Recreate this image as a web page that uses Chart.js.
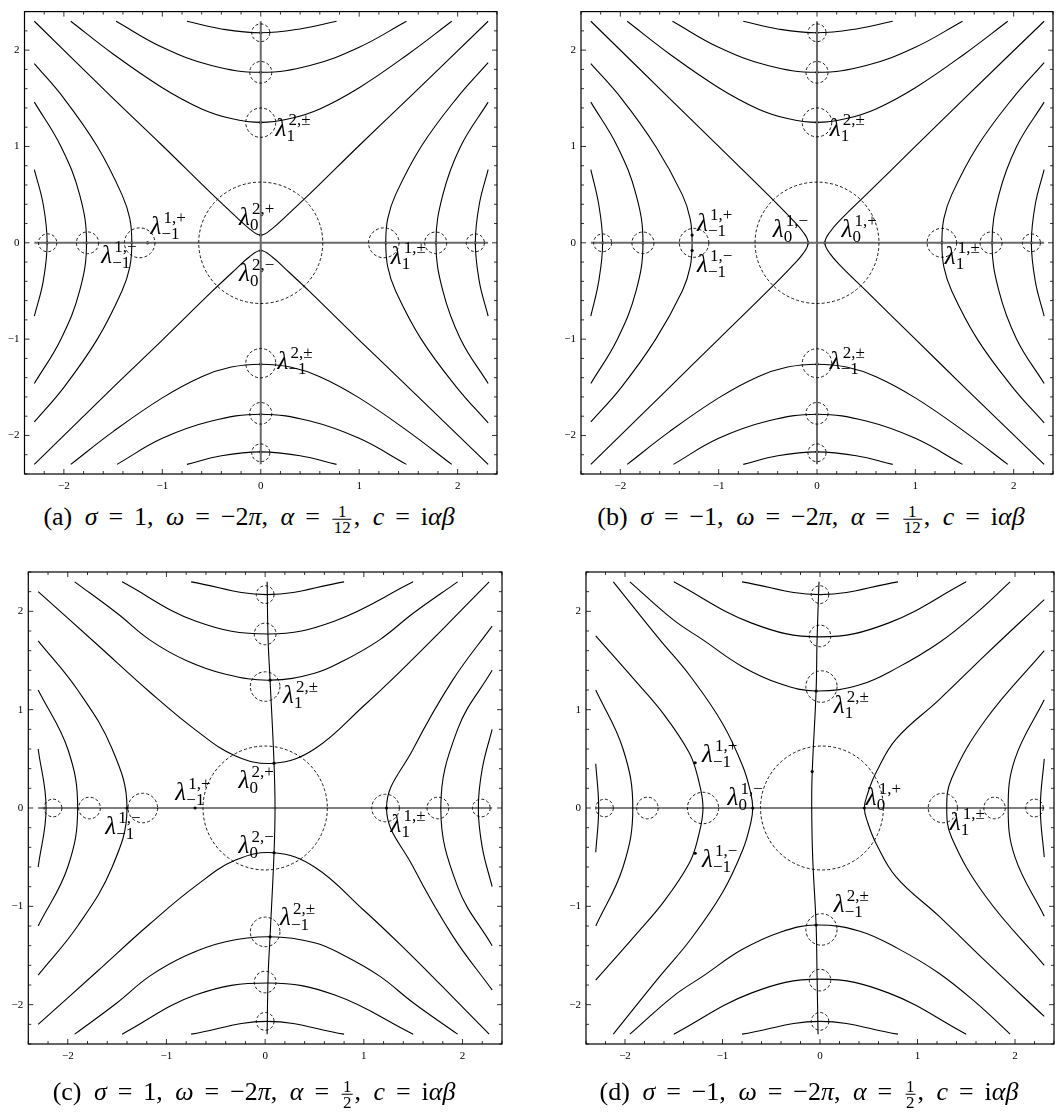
<!DOCTYPE html>
<html><head><meta charset="utf-8">
<script src="https://cdn.jsdelivr.net/npm/chart.js@4.4.1/dist/chart.umd.min.js"></script>
<style>
body{margin:0;background:#fff;width:1058px;height:1118px;position:relative;overflow:hidden;font-family:"Liberation Serif","DejaVu Serif",serif;color:#000}
canvas{position:absolute}
.cap{position:absolute;font-size:26px;white-space:nowrap;transform:translate(-50%,-50%);word-spacing:6px}
.cap i{font-style:italic}
.eq{margin:0 0.42em}
.fr{display:inline-block;vertical-align:middle;text-align:center;font-size:17px;line-height:15px;margin:0 2px;color:#000;word-spacing:0}
.fr span{display:block;padding:0 1px}
.fr span+span{border-top:1px solid #000}
</style></head><body>
<canvas id="ca" width="529" height="500" style="left:0;top:0;width:529px;height:500px"></canvas>
<canvas id="cb" width="529" height="500" style="left:529px;top:0;width:529px;height:500px"></canvas>
<canvas id="cc" width="529" height="540" style="left:0;top:540px;width:529px;height:540px"></canvas>
<canvas id="cd" width="529" height="540" style="left:529px;top:540px;width:529px;height:540px"></canvas>
<div class="cap" style="left:249px;top:518px">(a) <i>σ</i><span class="eq">=</span>1, <i>ω</i><span class="eq">=</span>−2<i>π</i>, <i>α</i><span class="eq">=</span><span class="fr"><span>1</span><span>12</span></span>, <i>c</i><span class="eq">=</span>i<i>αβ</i></div>
<div class="cap" style="left:811px;top:518px">(b) <i>σ</i><span class="eq">=</span>−1, <i>ω</i><span class="eq">=</span>−2<i>π</i>, <i>α</i><span class="eq">=</span><span class="fr"><span>1</span><span>12</span></span>, <i>c</i><span class="eq">=</span>i<i>αβ</i></div>
<div class="cap" style="left:254px;top:1093px">(c) <i>σ</i><span class="eq">=</span>1, <i>ω</i><span class="eq">=</span>−2<i>π</i>, <i>α</i><span class="eq">=</span><span class="fr"><span>1</span><span>2</span></span>, <i>c</i><span class="eq">=</span>i<i>αβ</i></div>
<div class="cap" style="left:809px;top:1093px">(d) <i>σ</i><span class="eq">=</span>−1, <i>ω</i><span class="eq">=</span>−2<i>π</i>, <i>α</i><span class="eq">=</span><span class="fr"><span>1</span><span>2</span></span>, <i>c</i><span class="eq">=</span>i<i>αβ</i></div>
<script>
// ---------- tick labels ----------
const tickValues = [-2, -1, 0, 1, 2];
const axisRange = [-2.4, 2.4];

// ---------- panel (a) ----------
const curvesA = [
  [[-1.93,2.30],[-1.5,1.96],[-1.0,1.61],[-0.6,1.39],[-0.3,1.29],[0,1.25],[0.3,1.29],[0.6,1.39],[1.0,1.61],[1.5,1.96],[1.94,2.30]],
  [[-1.47,2.30],[-1.0,2.03],[-0.5,1.84],[0,1.77],[0.5,1.84],[1.0,2.03],[1.48,2.30]],
  [[-0.75,2.30],[-0.4,2.22],[0,2.18],[0.4,2.22],[0.77,2.30]],
  [[-1.93,-2.30],[-1.5,-1.96],[-1.0,-1.61],[-0.6,-1.39],[-0.3,-1.29],[0,-1.26],[0.3,-1.29],[0.6,-1.39],[1.0,-1.61],[1.5,-1.96],[1.94,-2.30]],
  [[-1.46,-2.30],[-1.0,-2.03],[-0.5,-1.85],[0,-1.78],[0.5,-1.85],[1.0,-2.03],[1.48,-2.30]],
  [[-0.75,-2.30],[-0.4,-2.21],[0,-2.17],[0.4,-2.21],[0.77,-2.30]],
  [[-2.30,2.30],[-1.5,1.50],[-1.0,1.01],[-0.5,0.51],[-0.25,0.27],[-0.12,0.15],[0,0.08],[0.12,0.15],[0.25,0.27],[0.5,0.51],[1.0,1.01],[1.5,1.50],[2.31,2.30]],
  [[-2.30,-2.30],[-1.5,-1.50],[-1.0,-1.01],[-0.5,-0.51],[-0.25,-0.27],[-0.12,-0.15],[0,-0.08],[0.12,-0.15],[0.25,-0.27],[0.5,-0.51],[1.0,-1.01],[1.5,-1.50],[2.31,-2.30]],
  [[-2.30,1.86],[-2.0,1.5],[-1.66,1.0],[-1.41,0.5],[-1.33,0.25],[-1.31,0],[-1.33,-0.25],[-1.41,-0.5],[-1.66,-1.0],[-2.0,-1.5],[-2.30,-1.86]],
  [[-2.30,1.46],[-2.03,1.0],[-1.84,0.5],[-1.77,0],[-1.84,-0.5],[-2.03,-1.0],[-2.30,-1.46]],
  [[-2.30,0.76],[-2.21,0.4],[-2.17,0],[-2.21,-0.4],[-2.30,-0.76]],
  [[2.31,1.87],[1.99,1.5],[1.63,1.0],[1.37,0.5],[1.29,0.25],[1.27,0],[1.29,-0.25],[1.37,-0.5],[1.63,-1.0],[1.99,-1.5],[2.31,-1.87]],
  [[2.31,1.46],[2.03,1.0],[1.85,0.5],[1.78,0],[1.85,-0.5],[2.03,-1.0],[2.31,-1.46]],
  [[2.31,0.76],[2.22,0.4],[2.18,0],[2.22,-0.4],[2.31,-0.76]]
];
const axesA = [[[-2.3,0],[2.31,0]], [[0,-2.3],[0,2.3]]];
const dotsA = [[0,0.08],[0,-0.08],[-1.31,0],[-1.15,0],[1.27,0],[-1.77,0],[1.78,0],[-2.17,0],[2.18,0],[0,1.25],[0,1.77],[0,2.18],[0,-1.26],[0,-1.78],[0,-2.17]];
const circlesA = [[0,0,0.63],[-1.23,0,0.155],[-1.76,0,0.113],[-2.165,0,0.093],[1.25,0,0.155],[1.777,0,0.112],[2.18,0,0.092],[0,1.247,0.152],[0,1.77,0.112],[0,2.18,0.092],[0,-1.25,0.152],[0,-1.77,0.112],[0,-2.18,0.092]];
const labelsA = [[-1.12,0.09,'1,+','−1'],[-1.62,-0.21,'1,−','−1'],[-0.22,0.18,'2,+','0'],[-0.22,-0.40,'2,−','0'],[0.15,1.11,'2,±','1'],[0.17,-1.31,'2,±','−1'],[1.32,-0.22,'1,±','1']];

// ---------- panel (b) ----------
const curvesB = [
  [[-1.93,2.30],[-1.5,1.96],[-1.0,1.61],[-0.6,1.39],[-0.3,1.29],[0,1.25],[0.3,1.29],[0.6,1.39],[1.0,1.61],[1.5,1.96],[1.94,2.30]],
  [[-1.47,2.30],[-1.0,2.03],[-0.5,1.84],[0,1.77],[0.5,1.84],[1.0,2.03],[1.48,2.30]],
  [[-0.75,2.30],[-0.4,2.22],[0,2.18],[0.4,2.22],[0.77,2.30]],
  [[-1.93,-2.30],[-1.5,-1.96],[-1.0,-1.61],[-0.6,-1.39],[-0.3,-1.29],[0,-1.26],[0.3,-1.29],[0.6,-1.39],[1.0,-1.61],[1.5,-1.96],[1.94,-2.30]],
  [[-1.46,-2.30],[-1.0,-2.03],[-0.5,-1.85],[0,-1.78],[0.5,-1.85],[1.0,-2.03],[1.48,-2.30]],
  [[-0.75,-2.30],[-0.4,-2.21],[0,-2.17],[0.4,-2.21],[0.77,-2.30]],
  [[-2.30,2.30],[-1.5,1.50],[-1.0,1.00],[-0.5,0.50],[-0.26,0.25],[-0.14,0.11],[-0.09,0],[-0.14,-0.11],[-0.26,-0.25],[-0.5,-0.50],[-1.0,-1.00],[-1.5,-1.50],[-2.30,-2.30]],
  [[2.31,2.30],[1.5,1.50],[1.0,1.00],[0.5,0.50],[0.25,0.25],[0.13,0.11],[0.08,0],[0.13,-0.11],[0.25,-0.25],[0.5,-0.50],[1.0,-1.00],[1.5,-1.50],[2.31,-2.30]],
  [[-2.30,1.86],[-1.99,1.5],[-1.64,1.0],[-1.37,0.5],[-1.29,0.25],[-1.27,0],[-1.29,-0.25],[-1.37,-0.5],[-1.64,-1.0],[-1.99,-1.5],[-2.30,-1.86]],
  [[-2.30,1.46],[-2.03,1.0],[-1.84,0.5],[-1.77,0],[-1.84,-0.5],[-2.03,-1.0],[-2.30,-1.46]],
  [[-2.30,0.76],[-2.22,0.4],[-2.18,0],[-2.22,-0.4],[-2.30,-0.76]],
  [[2.31,1.87],[1.99,1.5],[1.63,1.0],[1.37,0.5],[1.29,0.25],[1.27,0],[1.29,-0.25],[1.37,-0.5],[1.63,-1.0],[1.99,-1.5],[2.31,-1.87]],
  [[2.31,1.46],[2.03,1.0],[1.85,0.5],[1.78,0],[1.85,-0.5],[2.03,-1.0],[2.31,-1.46]],
  [[2.31,0.76],[2.22,0.4],[2.18,0],[2.22,-0.4],[2.31,-0.76]]
];
const axesB = [[[-2.3,0],[2.31,0]], [[0,-2.3],[0,2.3]]];
const dotsB = [[-0.09,0],[0.08,0],[-1.27,0.08],[-1.27,-0.08],[1.27,0],[-1.77,0],[1.78,0],[-2.18,0],[2.18,0],[0,1.25],[0,1.77],[0,2.18],[0,-1.26],[0,-1.78],[0,-2.17]];
const circlesB = [[0,0,0.63],[-1.25,0,0.15],[-1.77,0,0.112],[-2.18,0,0.092],[1.27,0,0.15],[1.77,0,0.112],[2.18,0,0.092],[0,1.25,0.15],[0,1.77,0.112],[0,2.18,0.092],[0,-1.25,0.15],[0,-1.77,0.112],[0,-2.18,0.092]];
const labelsB = [[0.13,1.11,'2,±','1'],[-1.22,0.12,'1,+','−1'],[-1.22,-0.30,'1,−','−1'],[-0.45,0.06,'1,−','0'],[0.25,0.06,'1,+','0'],[0.13,-1.31,'2,±','−1'],[1.30,-0.22,'1,±','1']];

// ---------- panel (c) ----------
const curvesC = [
  [[0.02,2.30],[0.03,1.71],[0.05,1.30],[0.09,0.455],[0.10,0],[0.09,-0.46],[0.05,-1.30],[0.03,-1.71],[0.02,-2.30]],
  [[-2.30,0],[2.30,0]],
  [[-1.93,2.30],[-1.5,1.98],[-1.17,1.71],[-0.8,1.50],[-0.4,1.36],[0.05,1.30],[0.5,1.37],[0.8,1.50],[1.16,1.71],[1.5,1.98],[1.95,2.30]],
  [[-1.45,2.30],[-0.7,1.90],[0.03,1.77],[0.7,1.90],[1.5,2.30]],
  [[-0.75,2.30],[0.02,2.17],[0.8,2.30]],
  [[-2.30,2.20],[-1.7,1.66],[-1.17,1.18],[-0.7,0.79],[-0.3,0.53],[0.09,0.455],[0.5,0.60],[1.0,1.04],[1.37,1.39],[1.8,1.82],[2.27,2.30]],
  [[-1.93,-2.30],[-1.5,-1.98],[-1.17,-1.71],[-0.8,-1.50],[-0.4,-1.36],[0.05,-1.31],[0.5,-1.37],[0.8,-1.50],[1.16,-1.71],[1.5,-1.98],[1.95,-2.30]],
  [[-1.45,-2.30],[-0.7,-1.90],[0.03,-1.78],[0.7,-1.90],[1.5,-2.30]],
  [[-0.75,-2.30],[0.02,-2.17],[0.8,-2.30]],
  [[-2.30,-2.20],[-1.7,-1.66],[-1.17,-1.18],[-0.7,-0.79],[-0.3,-0.53],[0.09,-0.455],[0.5,-0.60],[1.0,-1.04],[1.37,-1.39],[1.8,-1.82],[2.27,-2.30]],
  [[-2.30,1.7],[-1.9,1.2],[-1.55,0.6],[-1.40,0],[-1.55,-0.6],[-1.9,-1.2],[-2.30,-1.7]],
  [[-2.30,1.2],[-2.0,0.6],[-1.9,0],[-2.0,-0.6],[-2.30,-1.2]],
  [[-2.30,0.6],[-2.22,0],[-2.30,-0.6]],
  [[2.30,1.85],[1.9,1.3],[1.5,0.6],[1.23,0],[1.5,-0.6],[1.9,-1.3],[2.30,-1.85]],
  [[2.30,1.4],[1.95,0.8],[1.78,0],[1.95,-0.8],[2.30,-1.4]],
  [[2.30,0.8],[2.2,0.4],[2.16,0],[2.2,-0.4],[2.30,-0.8]]
];
const axesC = [];
const dotsC = [[0.09,0.455],[0.09,-0.455],[-0.71,0],[0.05,1.30],[0.05,-1.31],[1.23,0],[-1.4,0]];
const circlesC = [[0,0,0.63],[-1.24,0,0.15],[-1.78,0,0.11],[-2.15,0,0.09],[1.22,0,0.14],[1.75,0,0.11],[2.19,0,0.09],[0.0,1.235,0.15],[0.0,1.77,0.11],[0.0,2.17,0.09],[0.0,-1.26,0.15],[0.0,-1.77,0.11],[0.0,-2.17,0.09]];
const labelsC = [[0.18,1.07,'2,±','1'],[-0.91,0.08,'1,+','−1'],[-1.62,-0.26,'1,−','−1'],[-0.27,0.20,'2,+','0'],[-0.27,-0.46,'2,−','0'],[0.15,-1.19,'2,±','−1'],[1.27,-0.24,'1,±','1']];

// ---------- panel (d) ----------
const curvesD = [
  [[-0.01,2.30],[-0.03,1.71],[-0.04,1.19],[-0.08,0.36],[-0.085,0],[-0.075,-0.5],[-0.04,-1.19],[-0.03,-1.71],[-0.02,-2.30]],
  [[-2.30,0],[2.30,0]],
  [[-1.95,2.30],[-1.5,1.91],[-1.2,1.71],[-0.8,1.44],[-0.4,1.26],[-0.04,1.19],[0.4,1.25],[0.8,1.43],[1.22,1.68],[1.6,1.98],[1.95,2.30]],
  [[-1.5,2.30],[-0.7,1.88],[0,1.74],[0.7,1.88],[1.5,2.30]],
  [[-0.8,2.30],[0,2.17],[0.8,2.30]],
  [[-1.95,-2.30],[-1.5,-1.91],[-1.2,-1.71],[-0.8,-1.44],[-0.4,-1.26],[-0.04,-1.19],[0.4,-1.25],[0.8,-1.43],[1.22,-1.68],[1.6,-1.98],[1.95,-2.30]],
  [[-1.5,-2.30],[-0.7,-1.88],[0,-1.74],[0.7,-1.88],[1.5,-2.30]],
  [[-0.8,-2.30],[0,-2.17],[0.8,-2.30]],
  [[-2.12,2.30],[-1.65,1.72],[-1.33,1.34],[-1.0,0.86],[-0.79,0.42],[-0.71,0.15],[-0.69,0],[-0.71,-0.15],[-0.79,-0.42],[-1.0,-0.86],[-1.33,-1.34],[-1.65,-1.72],[-2.12,-2.30]],
  [[2.30,2.12],[1.7,1.56],[1.22,1.10],[0.78,0.70],[0.575,0.36],[0.49,0.15],[0.455,0],[0.49,-0.15],[0.575,-0.36],[0.78,-0.70],[1.22,-1.10],[1.7,-1.56],[2.30,-2.12]],
  [[-2.30,1.75],[-1.9,1.3],[-1.6,0.95],[-1.34,0.56],[-1.25,0.3],[-1.2,0],[-1.25,-0.3],[-1.34,-0.56],[-1.6,-0.95],[-1.9,-1.3],[-2.30,-1.75]],
  [[-2.30,1.2],[-2.02,0.6],[-1.92,0],[-2.02,-0.6],[-2.30,-1.2]],
  [[-2.30,0.45],[-2.27,0],[-2.30,-0.45]],
  [[2.30,1.6],[1.7,0.9],[1.35,0.3],[1.30,0],[1.35,-0.3],[1.7,-0.9],[2.30,-1.6]],
  [[2.30,1.1],[2.0,0.5],[1.93,0],[2.0,-0.5],[2.30,-1.1]],
  [[2.30,0.5],[2.26,0],[2.30,-0.5]]
];
const axesD = [];
const dotsD = [[-1.28,0.46],[-1.28,-0.46],[-0.69,0],[0.455,0],[-0.04,1.19],[-0.04,-1.19],[-0.08,0.37]];
const circlesD = [[0.02,0,0.63],[-1.2,0,0.16],[-1.77,0,0.11],[-2.21,0,0.09],[1.26,0,0.15],[1.79,0,0.11],[2.2,0,0.09],[0.015,1.235,0.16],[0.0,1.75,0.11],[0.0,2.17,0.09],[0.015,-1.235,0.16],[0.0,-1.75,0.11],[0.0,-2.17,0.09]];
const labelsD = [[-1.21,0.47,'1,+','−1'],[-0.95,0.03,'1,−','0'],[0.47,0.03,'1,+','0'],[-1.21,-0.60,'1,−','−1'],[0.14,0.97,'2,±','1'],[0.14,-1.06,'2,±','−1'],[1.33,-0.22,'1,±','1']];

// ---------- drawing ----------
const FONT = '"Liberation Serif","DejaVu Serif",serif';
const fmt = v => (v < 0 ? '−' + Math.abs(v) : String(v));

const decorPlugin = {
  id: 'decor',
  afterDatasetsDraw(chart, args, o) {
    const {ctx, chartArea: a, scales: {x, y}} = chart;
    ctx.save();
    ctx.strokeStyle = '#000'; ctx.lineWidth = 0.9; ctx.setLineDash([3, 2.2]);
    o.circles.forEach(c => {
      const cx = x.getPixelForValue(c[0]), cy = y.getPixelForValue(c[1]);
      const rx = Math.abs(x.getPixelForValue(c[0] + c[2]) - cx);
      const ry = Math.abs(y.getPixelForValue(c[1] + c[2]) - cy);
      ctx.beginPath(); ctx.ellipse(cx, cy, rx, ry, 0, 0, Math.PI * 2); ctx.stroke();
    });
    ctx.setLineDash([]);
    ctx.lineWidth = 1.2; ctx.strokeStyle = '#000';
    ctx.strokeRect(a.left, a.top, a.right - a.left, a.bottom - a.top);
    ctx.lineWidth = 0.8;
    for (let i = -12; i <= 12; i++) {
      const v = i / 5;
      const L = (i % 5 === 0) ? 5 : 3;
      const px = x.getPixelForValue(v), py = y.getPixelForValue(v);
      ctx.beginPath();
      ctx.moveTo(px, a.bottom); ctx.lineTo(px, a.bottom - L);
      ctx.moveTo(px, a.top); ctx.lineTo(px, a.top + L);
      ctx.moveTo(a.left, py); ctx.lineTo(a.left + L, py);
      ctx.moveTo(a.right, py); ctx.lineTo(a.right - L, py);
      ctx.stroke();
    }
    ctx.fillStyle = '#000'; ctx.textBaseline = 'alphabetic'; ctx.textAlign = 'left';
    o.labels.forEach(l => {
      const px = x.getPixelForValue(l[0]), py = y.getPixelForValue(l[1]);
      ctx.font = 'italic 25px ' + FONT;
      ctx.fillText('λ', px, py);
      ctx.font = '17px ' + FONT;
      ctx.fillText(l[2], px + 13, py - 11);
      ctx.fillText(l[3], px + 11, py + 5);
    });
    ctx.restore();
  }
};

function makeChart(id, curves, axes, dots, circles, labels, geom) {
  const ds = [];
  axes.forEach(c => ds.push({data: c.map(p => ({x: p[0], y: p[1]})), showLine: true, borderColor: '#6a6a6a', borderWidth: 2, pointRadius: 0, tension: 0}));
  curves.forEach(c => ds.push({data: c.map(p => ({x: p[0], y: p[1]})), showLine: true, borderColor: '#000', borderWidth: 1.1, pointRadius: 0, tension: 0.4}));
  ds.push({data: dots.map(p => ({x: p[0], y: p[1]})), showLine: false, pointRadius: 1.6, pointBackgroundColor: '#000', pointBorderWidth: 0});
  const axisOpts = (isX) => ({
    type: 'linear', min: axisRange[0], max: axisRange[1],
    afterBuildTicks: s => { s.ticks = tickValues.map(v => ({value: v})); },
    afterFit: s => { if (isX) s.height = geom.xh; else s.width = geom.yw; },
    grid: {display: false, drawTicks: false}, border: {display: false},
    ticks: {callback: v => fmt(v), color: '#000', font: {family: FONT, size: 11}, padding: isX ? 6 : 5, maxRotation: 0, autoSkip: false}
  });
  new Chart(document.getElementById(id), {
    type: 'scatter',
    data: {datasets: ds},
    options: {
      responsive: false, animation: false, events: [],
      layout: {padding: {top: geom.pt, right: geom.pr, left: 0, bottom: 0}},
      plugins: {legend: {display: false}, tooltip: {enabled: false}, decor: {circles, labels}},
      scales: {x: axisOpts(true), y: axisOpts(false)}
    },
    plugins: [decorPlugin]
  });
}

makeChart('ca', curvesA, axesA, dotsA, circlesA, labelsA, {yw: 24.5, xh: 26, pt: 1, pr: 32});
makeChart('cb', curvesB, axesB, dotsB, circlesB, labelsB, {yw: 52, xh: 26, pt: 1, pr: 5});
makeChart('cc', curvesC, axesC, dotsC, circlesC, labelsC, {yw: 28.3, xh: 36, pt: 32, pr: 27});
makeChart('cd', curvesD, axesD, dotsD, circlesD, labelsD, {yw: 57, xh: 36, pt: 32, pr: 3});
</script>
</body></html>
